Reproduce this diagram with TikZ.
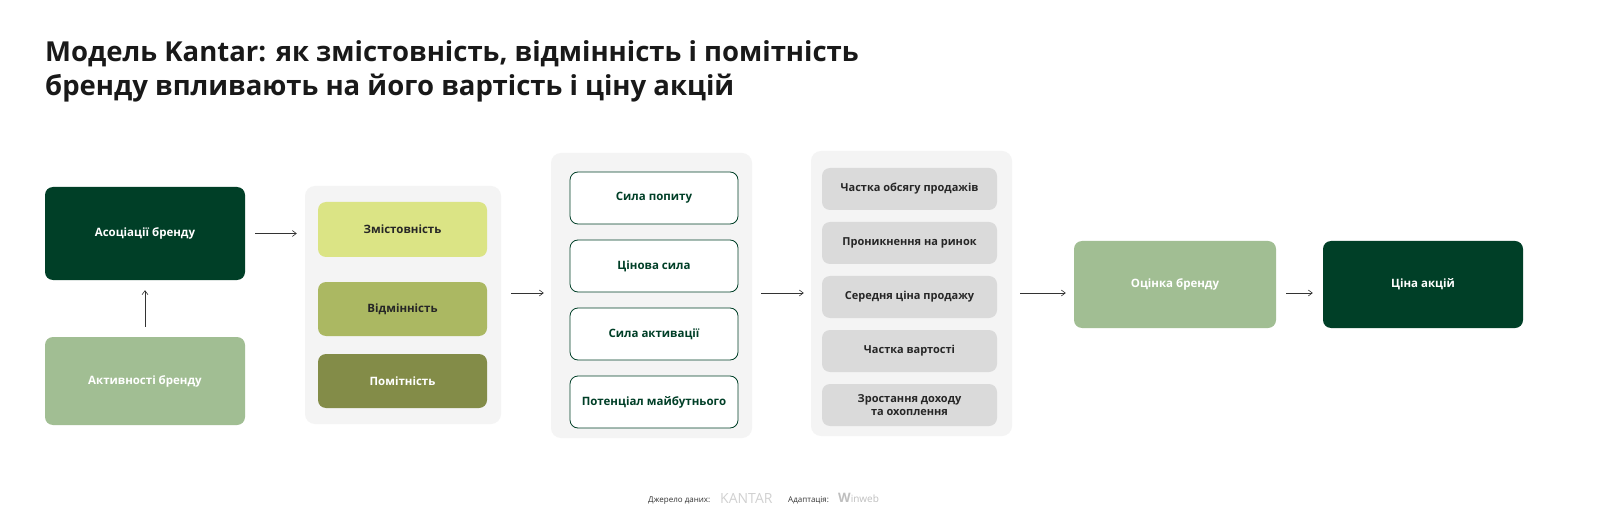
\documentclass[tikz,border=0pt]{standalone}
\usepackage{fontspec}
\setmainfont{Open Sans}
\usetikzlibrary{arrows.meta}
\definecolor{dk}{HTML}{003F27}
\definecolor{lg}{HTML}{A1BE93}
\definecolor{pn}{HTML}{F4F4F4}
\definecolor{c1}{HTML}{DBE485}
\definecolor{c2}{HTML}{ABB862}
\definecolor{c3}{HTML}{838C48}
\definecolor{gb}{HTML}{DADADA}
\tikzset{
 bx/.style={rounded corners=8pt, inner sep=0pt, align=center, font=\fontsize{11.5}{14}\selectfont\bfseries},
 arr/.style={-{Straight Barb[length=4pt,width=6pt]}, line width=0.6pt, black!80},
}
\begin{document}
\begin{tikzpicture}[x=1pt,y=-1pt]
\useasboundingbox (0,0) rectangle (1600,529);
\fill[white] (0,0) rectangle (1600,529);
\node[anchor=base west, inner sep=0, font=\fontsize{27.5}{33}\selectfont\bfseries, text=black!90, align=left] (title) at (45,62) {Модель Kantar: як змістовність, відмінність і помітність};
\node[anchor=base west, inner sep=0, font=\fontsize{27.5}{33}\selectfont\bfseries, text=black!90] (title2) at (45,96) {бренду впливають на його вартість і ціну акцій};
% left
\node[bx, fill=dk, text=white, minimum width=200pt, minimum height=93pt] (a) at (145,233.5) {Асоціації бренду};
\node[bx, fill=lg, text=white, minimum width=200pt, minimum height=88pt] (b) at (145,381) {Активності бренду};
\draw[arr] ([yshift=10pt]b.north) -- ([yshift=-10pt]a.south);
% panel 1
\node[fill=pn, rounded corners=10pt, minimum width=196pt, minimum height=238pt, inner sep=0] (p1) at (403,305) {};
\node[bx, fill=c1, text=black!85, minimum width=169pt, minimum height=55pt] (z) at (402.5,229.5) {Змістовність};
\node[bx, fill=c2, text=black!85, minimum width=169pt, minimum height=54pt] (v) at (402.5,309) {Відмінність};
\node[bx, fill=c3, text=white, minimum width=169pt, minimum height=54pt] (m) at (402.5,381) {Помітність};
\draw[arr] ([xshift=10pt]a.east) -- ([xshift=-8pt]p1.west |- a.east);
% panel 2
\node[fill=pn, rounded corners=10pt, minimum width=201pt, minimum height=285pt, inner sep=0] (p2) at (651.5,295.5) {};
\foreach \n/\y/\t in {s1/198/Сила попиту, s2/266/Цінова сила, s3/334/Сила активації, s4/402/Потенціал майбутнього}
  \node[bx, fill=white, draw=dk, line width=0.8pt, text=dk, minimum width=168pt, minimum height=52pt] (\n) at (654,\y) {\t};
% panel 3
\node[fill=pn, rounded corners=10pt, minimum width=201pt, minimum height=285pt, inner sep=0] (p3) at (911.5,293.5) {};
\foreach \n/\y/\t in {g1/189/Частка обсягу продажів, g2/243/Проникнення на ринок, g3/297/Середня ціна продажу, g4/351/Частка вартості, g5/405/Зростання доходу\\та охоплення}
  \node[bx, fill=gb, text=black!85, minimum width=175pt, minimum height=42pt, font=\fontsize{11}{12.5}\selectfont\bfseries] (\n) at (909.5,\y) {\t};
% right
\node[bx, fill=lg, text=white, minimum width=202pt, minimum height=87pt] (o) at (1175,284.5) {Оцінка бренду};
\node[bx, fill=dk, text=white, minimum width=200pt, minimum height=87pt] (c) at (1423,284.5) {Ціна акцій};
\coordinate (mid) at (0,293);
\draw[arr] ([xshift=10pt]p1.east |- mid) -- ([xshift=-7pt]p2.west |- mid);
\draw[arr] ([xshift=9pt]p2.east |- mid) -- ([xshift=-7pt]p3.west |- mid);
\draw[arr] ([xshift=8pt]p3.east |- mid) -- ([xshift=-8pt]o.west |- mid);
\draw[arr] ([xshift=10pt]o.east |- mid) -- ([xshift=-10pt]c.west |- mid);
% footer
\node[anchor=base west, inner sep=0, font=\fontsize{8}{9}\selectfont, text=black!80] (f1) at (648,502) {Джерело даних:};
\node[anchor=base west, inner sep=0, font=\fontsize{14}{16}\selectfont, text=black!18] (f2) at (720,503) {KANTAR};
\node[anchor=base west, inner sep=0, font=\fontsize{8}{9}\selectfont, text=black!80] (f3) at (788,502) {Адаптація:};
\node[anchor=base west, inner sep=0, font=\fontsize{10}{11}\selectfont, text=black!25] (f4) at (838,502) {{\bfseries\fontsize{13}{13}\selectfont W}inweb};
\end{tikzpicture}
\end{document}
